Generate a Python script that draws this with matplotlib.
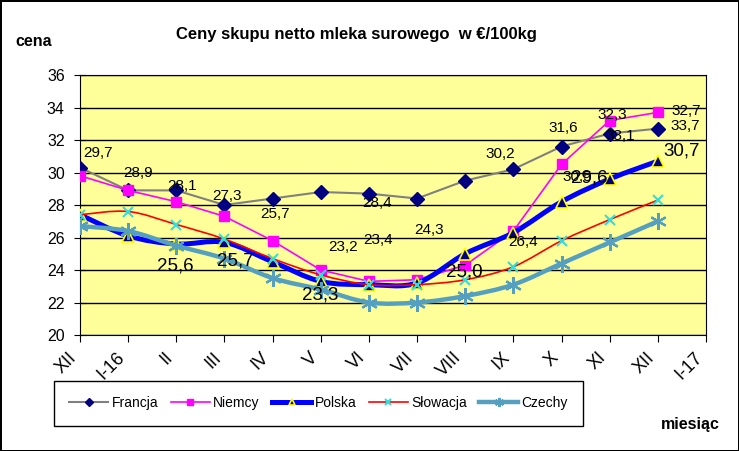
import matplotlib.pyplot as plt
import matplotlib.transforms as mtransforms
from matplotlib.path import Path
from matplotlib.patches import PathPatch
from matplotlib.lines import Line2D

# --- DANE ---
months = ["XII", "I-16", "II", "III", "IV", "V", "VI", "VII", "VIII", "IX", "X", "XI", "XII", "I-17"]
francja = [30.3, 28.9, 28.9, 28.0, 28.4, 28.8, 28.7, 28.4, 29.5, 30.2, 31.6, 32.4, 32.7]
niemcy = [29.8, 28.9, 28.2, 27.3, 25.8, 24.0, 23.3, 23.4, 24.3, 26.4, 30.5, 33.2, 33.7]
polska = [27.4, 26.1, 25.6, 25.7, 24.5, 23.3, 23.1, 23.2, 25.0, 26.3, 28.2, 29.6, 30.7]
slowacja = [27.4, 27.6, 26.8, 25.9, 24.7, 23.7, 23.1, 23.1, 23.4, 24.2, 25.8, 27.1, 28.3]
czechy = [26.7, 26.4, 25.5, 24.7, 23.5, 22.8, 22.0, 22.0, 22.4, 23.1, 24.4, 25.7, 27.0]

# etykiety danych (tekst, x, y) - tak jak na oryginale, troche porozrzucane
labels_small = [("29,7", 0.37, 31.2), ("28,9", 1.2, 29.97), ("28,1", 2.12, 29.17),
                ("27,3", 3.05, 28.55), ("25,7", 4.05, 27.45), ("28,4", 6.16, 28.12),
                ("23,2", 5.46, 25.4), ("23,4", 6.18, 25.85), ("24,3", 7.24, 26.46),
                ("26,4", 9.21, 25.72), ("30,2", 8.73, 31.14), ("31,6", 10.04, 32.74),
                ("32,3", 11.06, 33.54), ("33,1", 11.22, 32.25), ("32,7", 12.59, 33.8),
                ("33,7", 12.57, 32.86), ("30,5", 10.33, 29.72)]
labels_big = [("25,6", 1.97, 24.25), ("25,7", 3.22, 24.55), ("23,3", 4.98, 22.46),
              ("25,0", 7.99, 23.88), ("29,6", 10.58, 29.66), ("30,7", 12.49, 31.32)]

plt.rcParams['font.family'] = ['Liberation Sans', 'DejaVu Sans']


def smooth_path(xs, ys):
    # wygladzona linia jak w Excelu (krzywe Beziera przez punkty)
    n = len(xs)
    verts = [(xs[0], ys[0])]
    codes = [Path.MOVETO]
    for i in range(n - 1):
        i0 = max(i - 1, 0)
        i3 = min(i + 2, n - 1)
        c1 = (xs[i] + (xs[i + 1] - xs[i0]) / 6, ys[i] + (ys[i + 1] - ys[i0]) / 6)
        c2 = (xs[i + 1] - (xs[i3] - xs[i]) / 6, ys[i + 1] - (ys[i3] - ys[i]) / 6)
        verts += [c1, c2, (xs[i + 1], ys[i + 1])]
        codes += [Path.CURVE4] * 3
    return Path(verts, codes)


fig = plt.figure(figsize=(7.39, 4.51), dpi=100)
fig.patch.set_edgecolor("black")
fig.patch.set_linewidth(2)
ax = fig.add_axes([0.1083, 0.2572, 0.8470, 0.5765])
ax.set_facecolor("#FFFF99")

x = list(range(len(francja)))

series = [
    ("Francja", francja, dict(color="#808080", lw=1.5), dict(marker="D", ms=7, mfc="#000080", mec="#000080"), False),
    ("Niemcy", niemcy, dict(color="#FF00FF", lw=1.2), dict(marker="s", ms=7.5, mfc="#FF00FF", mec="#FF00FF"), False),
    ("Polska", polska, dict(color="#0000FF", lw=3.6), dict(marker="^", ms=8, mfc="#000080", mec="#FFFF00", mew=1.2), True),
    ("Słowacja", slowacja, dict(color="#FF0000", lw=1.2), dict(marker="x", ms=7, mfc="#33DDDD", mec="#33DDDD", mew=1.5), True),
    ("Czechy", czechy, dict(color="#55A0C0", lw=3.2), dict(marker=(6, 2, 0), ms=12, mfc="#55A0C0", mec="#55A0C0", mew=1.6), True),
]

handles = []
for k, (name, vals, lstyle, mstyle, smooth) in enumerate(series):
    z = 3 + k
    if smooth:
        ax.add_patch(PathPatch(smooth_path(x, vals), fill=False, edgecolor=lstyle["color"],
                               lw=lstyle["lw"], zorder=z, capstyle="round", joinstyle="round"))
    else:
        ax.plot(x, vals, color=lstyle["color"], lw=lstyle["lw"], zorder=z)
    ax.plot(x, vals, linestyle="none", zorder=z + 0.5, **mstyle)
    leg_m = dict(mstyle)
    leg_m["ms"] = mstyle["ms"] * 0.55
    handles.append(Line2D([], [], color=lstyle["color"], lw=lstyle["lw"], **leg_m))

for txt, tx, ty in labels_small:
    ax.text(tx, ty, txt, fontsize=11, ha="center", va="center", zorder=10)
for txt, tx, ty in labels_big:
    ax.text(tx, ty, txt, fontsize=13.5, ha="center", va="center", zorder=11)

ax.set_xlim(0, 13)
ax.set_ylim(20, 36)
ax.set_yticks(range(20, 37, 2))
ax.set_xticks(range(len(months)))
ax.set_xticklabels(months, rotation=45, ha="right", fontsize=13)
offset = mtransforms.ScaledTranslation(0.07, 0, fig.dpi_scale_trans)
for lab in ax.get_xticklabels():
    lab.set_transform(lab.get_transform() + offset)
ax.tick_params(axis="y", direction="inout", length=8, labelsize=11.5, pad=7)
ax.tick_params(axis="x", direction="out", length=5, pad=5)
ax.yaxis.grid(True, color="black", lw=1)
ax.set_axisbelow(True)
for side in ["top", "right"]:
    ax.spines[side].set_linewidth(0.8)

fig.text(0.482, 0.924, "Ceny skupu netto mleka surowego  w €/100kg", fontsize=12, fontweight="bold",
         ha="center", va="center")
fig.text(0.046, 0.908, "cena", fontsize=11.5, fontweight="bold", ha="center", va="center")
fig.text(0.934, 0.058, "miesiąc", fontsize=11.5, fontweight="bold", ha="center", va="center")

leg = fig.legend(handles, [s[0] for s in series], loc="upper left", bbox_to_anchor=(0.0731, 0.1552),
                 borderaxespad=0, ncol=5, fontsize=10, frameon=True, fancybox=False, framealpha=1,
                 edgecolor="black", handlelength=2.8, handletextpad=0.25, columnspacing=0.9,
                 borderpad=1.1)
leg.get_frame().set_linewidth(1)

plt.savefig("out.png", dpi=100)
